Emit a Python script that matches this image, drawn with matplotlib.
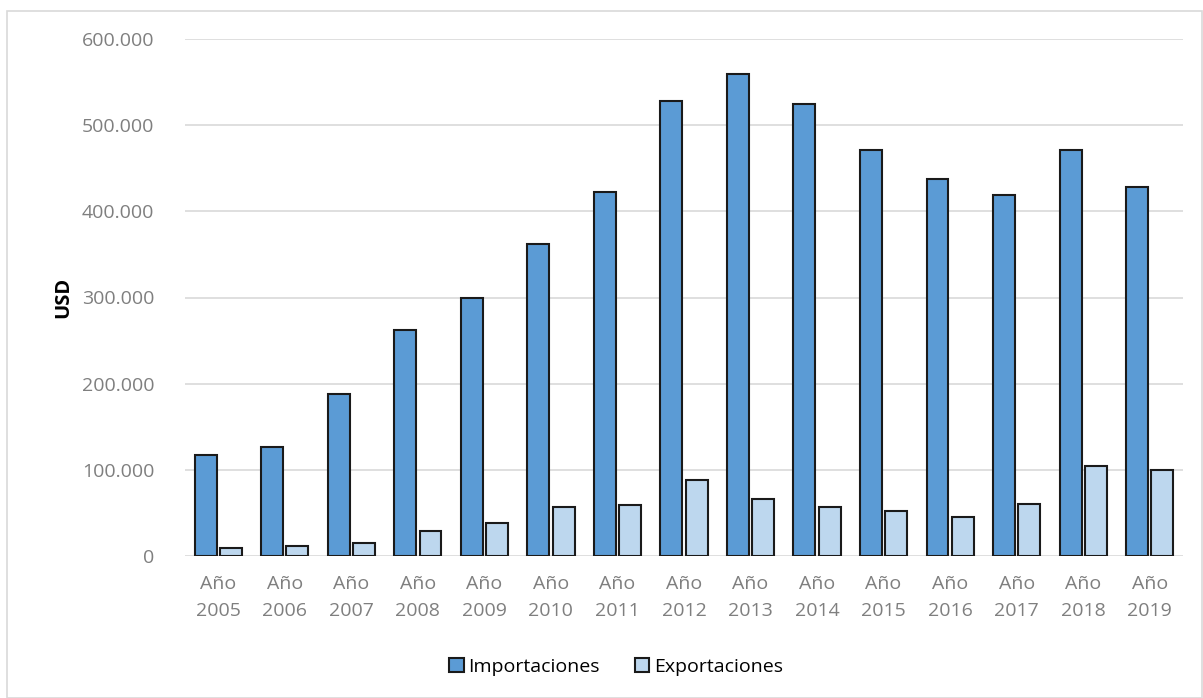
import matplotlib
matplotlib.use("Agg")
import matplotlib.pyplot as plt
import numpy as np
from matplotlib.patches import Rectangle
from matplotlib.ticker import FuncFormatter

years = [f"Año\n{y}" for y in range(2005, 2020)]
importaciones = [117000, 126000, 188000, 262000, 299000, 362000, 423000, 528000,
                 559000, 525000, 471000, 437000, 419000, 471000, 428000]
exportaciones = [9000, 12000, 15000, 29000, 38000, 57000, 59000, 88000,
                 66000, 57000, 52000, 45000, 60000, 104000, 100000]

plt.rcParams['font.family'] = ['Open Sans', 'DejaVu Sans']

fig = plt.figure(figsize=(12.03, 6.98), dpi=100)
fig.patches.append(Rectangle((7/1203, 0), 1 - 7/1203 - 1/1203, 1 - 11/698,
                             transform=fig.transFigure, fill=False,
                             edgecolor='#d9d9d9', linewidth=1.2))
ax = fig.add_axes([185/1203, (698-556)/698, 998/1203, 517/698])

x = np.arange(len(years))
w = 0.33
gap = 0.05
ax.bar(x - (w + gap)/2, importaciones, w, color='#5b9bd5', edgecolor='#1a1a1a',
       linewidth=1.5, label='Importaciones', zorder=3)
ax.bar(x + (w + gap)/2, exportaciones, w, color='#bdd7ee', edgecolor='#1a1a1a',
       linewidth=1.5, label='Exportaciones', zorder=3)

ax.set_ylim(0, 600000)
ax.set_xlim(-0.5, len(years) - 0.5)
ax.set_yticks(np.arange(0, 600001, 100000))
ax.yaxis.set_major_formatter(FuncFormatter(lambda v, p: '0' if v == 0 else f"{int(v):,}".replace(',', '.')))
ax.grid(axis='y', color='#d9d9d9', linewidth=1.2, zorder=0)
for s in ax.spines.values():
    s.set_visible(False)
ax.tick_params(axis='both', length=0, labelcolor='#7f7f7f', labelsize=14)
ax.tick_params(axis='y', pad=22)
ax.tick_params(axis='x', pad=14)
ax.set_xticks(x)
ax.set_xticklabels(years, linespacing=1.6)
ax.set_ylabel('USD', fontsize=14.5, fontweight='bold', color='black', labelpad=6)

ax.legend(loc='center', bbox_to_anchor=(0.432, -0.215), ncol=2, frameon=False,
          fontsize=14, handlelength=0.75, handleheight=0.75, columnspacing=1.8,
          handletextpad=0.25)

fig.savefig('out.png', dpi=100)
